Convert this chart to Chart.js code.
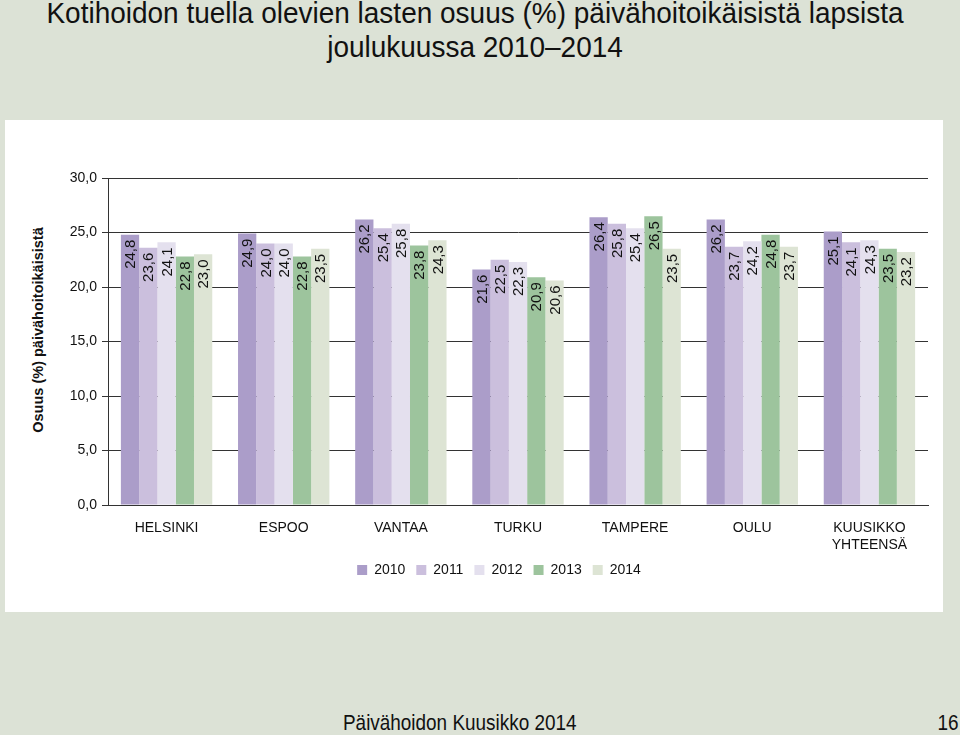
<!DOCTYPE html>
<html>
<head>
<meta charset="utf-8">
<script src="https://cdn.jsdelivr.net/npm/chart.js@4"></script>
<style>
  body { margin: 0; width: 960px; height: 735px; background: #dce2d6; position: relative; overflow: hidden;
         font-family: "Liberation Sans", Arial, sans-serif; }
  .title { position: absolute; left: 0; top: -4px; width: 950px; text-align: center;
           font-size: 29px; line-height: 34px; color: #111; transform: scaleX(0.965); transform-origin: 475px 0; }
  .panel { position: absolute; left: 5px; top: 120px; width: 938px; height: 492px; background: #fff; }
  .chart-box { position: absolute; left: 50px; top: 120px; width: 893px; height: 492px; }
  .ytitle { position: absolute; left: 38px; top: 330px; transform: translate(-50%, -50%) rotate(-90deg);
            white-space: nowrap; font-weight: bold; font-size: 14.5px; color: #111; }
  .footer { position: absolute; left: 343px; top: 710px; font-size: 22px; color: #111;
            transform: scaleX(0.86); transform-origin: 0 0; white-space: nowrap; }
  .page { position: absolute; right: 2px; top: 710px; font-size: 22px; color: #111;
          transform: scaleX(0.86); transform-origin: 100% 0; }
</style>
</head>
<body>
<div class="title">Kotihoidon tuella olevien lasten osuus (%) päivähoitoikäisistä lapsista<br>joulukuussa 2010–2014</div>
<div class="panel"></div>
<div class="ytitle">Osuus (%) päivähoitoikäisistä</div>
<div class="chart-box"><canvas id="kotihoitoChart"></canvas></div>
<div class="footer">Päivähoidon Kuusikko 2014</div>
<div class="page">16</div>

<script>
// data
const cities = ['HELSINKI', 'ESPOO', 'VANTAA', 'TURKU', 'TAMPERE', 'OULU', ['KUUSIKKO', 'YHTEENSÄ']];
const years = ['2010', '2011', '2012', '2013', '2014'];
const values2010 = [24.8, 24.9, 26.2, 21.6, 26.4, 26.2, 25.1];
const values2011 = [23.6, 24.0, 25.4, 22.5, 25.8, 23.7, 24.1];
const values2012 = [24.1, 24.0, 25.8, 22.3, 25.4, 24.2, 24.3];
const values2013 = [22.8, 22.8, 23.8, 20.9, 26.5, 24.8, 23.5];
const values2014 = [23.0, 23.5, 24.3, 20.6, 23.5, 23.7, 23.2];
const yTicks = [0, 5, 10, 15, 20, 25, 30];

const colors = ['#ab9dc9', '#cbbfdd', '#e4e0ee', '#9dc49d', '#dde4d4'];
const seriesValues = [values2010, values2011, values2012, values2013, values2014];

const fmt = v => v.toFixed(1).replace('.', ',');

// rotated value labels inside the top of each bar
const barLabels = {
  id: 'barLabels',
  afterDatasetsDraw(chart) {
    const c = chart.ctx;
    chart.data.datasets.forEach((ds, i) => {
      const meta = chart.getDatasetMeta(i);
      meta.data.forEach((bar, j) => {
        c.save();
        c.translate(bar.x + 1, bar.y + 5);
        c.rotate(-Math.PI / 2);
        c.font = '15px "Liberation Sans", Arial, sans-serif';
        c.fillStyle = '#111';
        c.textAlign = 'right';
        c.textBaseline = 'middle';
        c.fillText(fmt(ds.data[j]), 0, 0);
        c.restore();
      });
    });
  }
};

const ctx = document.getElementById('kotihoitoChart');

new Chart(ctx, {
  type: 'bar',
  data: {
    labels: cities,
    datasets: years.map((y, i) => ({
      label: y,
      data: seriesValues[i],
      backgroundColor: colors[i],
      borderWidth: 0,
      categoryPercentage: 0.78,
      barPercentage: 1.0
    }))
  },
  options: {
    responsive: true,
    maintainAspectRatio: false,
    animation: false,
    layout: { padding: { top: 58, right: 15, left: 20, bottom: 25 } },
    plugins: {
      tooltip: { enabled: false },
      legend: {
        position: 'bottom',
        labels: {
          boxWidth: 10,
          boxHeight: 10,
          padding: 11,
          color: '#111',
          font: { family: '"Liberation Sans", Arial, sans-serif', size: 14 }
        }
      }
    },
    scales: {
      x: {
        grid: { display: false },
        border: { display: true, color: '#333', width: 1 },
        ticks: {
          color: '#111',
          padding: 7,
          maxRotation: 0,
          autoSkip: false,
          font: { family: '"Liberation Sans", Arial, sans-serif', size: 14 }
        },
        afterFit(scale) { scale.height = 47; }
      },
      y: {
        min: 0,
        max: 30,
        afterBuildTicks(scale) { scale.ticks = yTicks.map(v => ({ value: v })); },
        grid: { color: '#333', lineWidth: 1, tickLength: 6, drawTicks: true },
        border: { display: true, color: '#333', width: 1 },
        ticks: {
          color: '#111',
          padding: 5,
          callback: v => fmt(v),
          font: { family: '"Liberation Sans", Arial, sans-serif', size: 14 }
        },
        afterFit(scale) { scale.width = 38; }
      }
    }
  },
  plugins: [barLabels]
});
</script>
</body>
</html>
